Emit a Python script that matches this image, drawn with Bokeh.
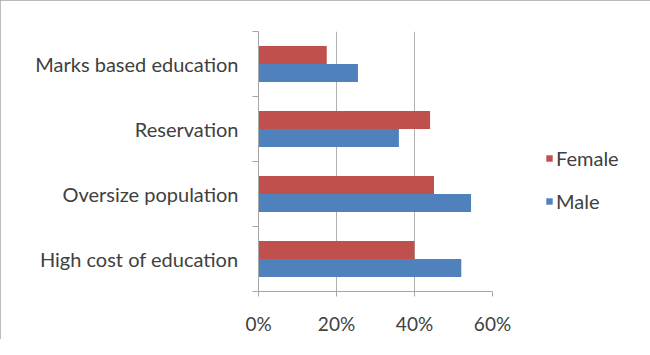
from bokeh.plotting import figure
from bokeh.models import (Range1d, FixedTicker, PrintfTickFormatter, Legend, LegendItem,
                          ColumnDataSource)
from bokeh.embed import file_html
from bokeh.resources import INLINE

# Data (bottom to top, as drawn)
categories = ["High cost of education", "Oversize population", "Reservation", "Marks based education"]
female = [40, 45, 44, 17.5]
male = [52, 54.5, 36, 25.5]
x_ticks = [0, 20, 40, 60]

FONT = "Lato"
BAR_H = 0.277
centers = [i + 0.5 for i in range(len(categories))]

src = ColumnDataSource(dict(
    yf=[c + BAR_H / 2 for c in centers],
    ym=[c - BAR_H / 2 for c in centers],
    female=female,
    male=male,
))

p = figure(frame_width=234, frame_height=260, output_backend="svg", toolbar_location=None,
           x_range=Range1d(0, 60), y_range=Range1d(0, len(categories)),
           min_border_left=258, min_border_right=150, min_border_top=31, min_border_bottom=48)
p.outline_line_color = None
p.background_fill_color = "white"
p.border_fill_color = "white"
p.styles = {"outline": "1px solid #a6a6a6", "outline-offset": "-1px"}

rf = p.hbar(y="yf", right="female", left=0, height=BAR_H, source=src,
            fill_color="#C0504D", line_color=None)
rm = p.hbar(y="ym", right="male", left=0, height=BAR_H, source=src,
            fill_color="#4F81BD", line_color=None)

# x axis
p.xaxis.ticker = FixedTicker(ticks=x_ticks)
p.xaxis.formatter = PrintfTickFormatter(format="%d%%")
p.xaxis.axis_line_color = "#a6a6a6"
p.xaxis.major_tick_line_color = "#a6a6a6"
p.xaxis.major_tick_out = 5
p.xaxis.major_tick_in = 0
p.xaxis.minor_tick_line_color = None
p.xaxis.major_label_standoff = 15
p.xaxis.major_label_text_font = FONT
p.xaxis.major_label_text_font_size = "19px"
p.xaxis.major_label_text_color = "#404040"

# y axis
p.yaxis.ticker = FixedTicker(ticks=centers, minor_ticks=list(range(len(categories) + 1)))
p.yaxis.major_label_overrides = {c: name for c, name in zip(centers, categories)}
p.yaxis.axis_line_color = "#a6a6a6"
p.yaxis.major_tick_line_color = None
p.yaxis.major_tick_out = 0
p.yaxis.major_tick_in = 0
p.yaxis.minor_tick_line_color = "#a6a6a6"
p.yaxis.minor_tick_out = 6
p.yaxis.minor_tick_in = 0
p.yaxis.major_label_standoff = 14
p.yaxis.major_label_text_font = FONT
p.yaxis.major_label_text_font_size = "20px"
p.yaxis.major_label_text_color = "#404040"

# grid
p.ygrid.grid_line_color = None
p.xgrid.ticker = FixedTicker(ticks=x_ticks)
p.xgrid.grid_line_color = "#b0b0b0"

legend = Legend(items=[LegendItem(label="Female", renderers=[rf]),
                       LegendItem(label="Male", renderers=[rm])],
                location=(53, 78), padding=0, margin=0, spacing=19,
                glyph_width=8, glyph_height=8, label_standoff=3,
                label_text_font=FONT, label_text_font_size="20px",
                label_text_color="#404040",
                border_line_color=None, background_fill_alpha=0)
p.add_layout(legend, "right")

open("out.html", "w").write(file_html(p, INLINE))
